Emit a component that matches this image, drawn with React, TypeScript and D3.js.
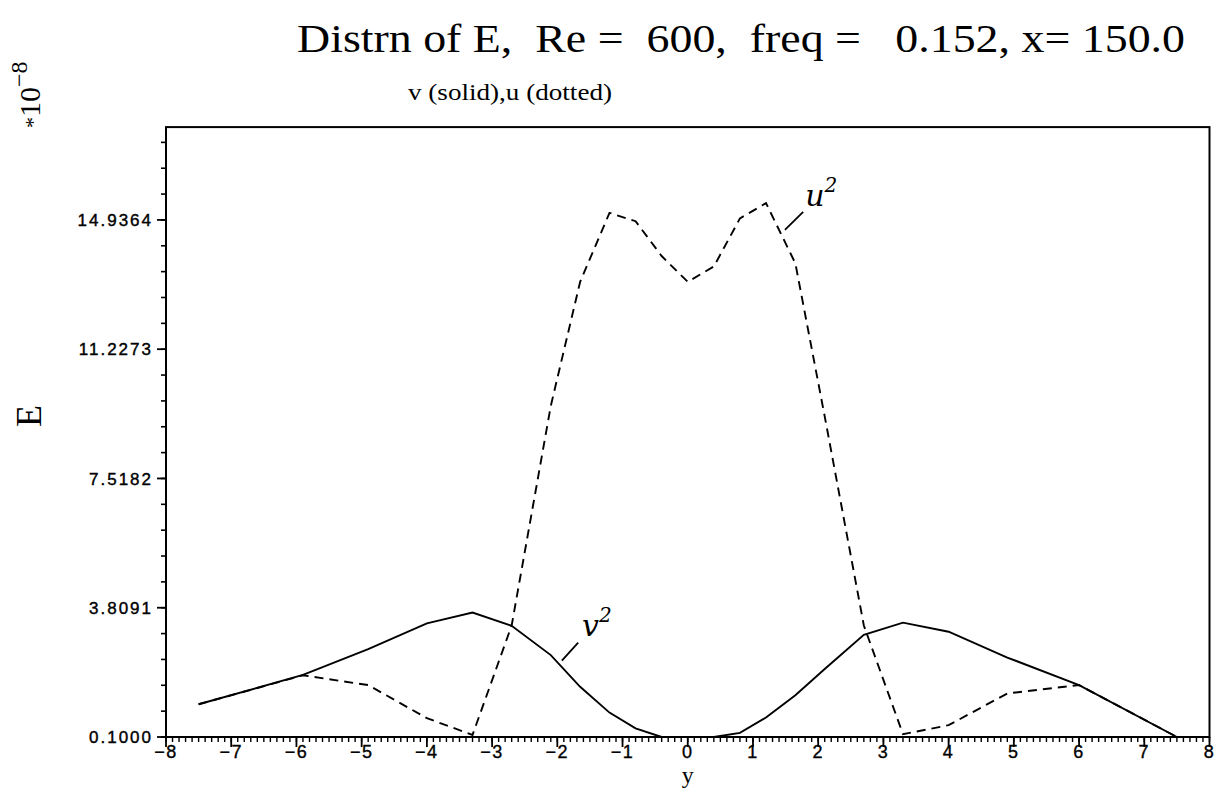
import * as d3 from 'd3';

// station coordinates (y) shared by both curves
const yStations = [-7.5, -5.9, -4.9, -4.0, -3.3, -2.7, -2.1, -1.65, -1.2, -0.8, -0.4, 0, 0.4, 0.8, 1.2, 1.65, 2.1, 2.7, 3.3, 4.0, 4.9, 6.0, 7.5];
// v^2 (solid), units of 1e-8
const vSquared = [1.04, 1.88, 2.62, 3.36, 3.67, 3.29, 2.45, 1.54, 0.8, 0.35, 0.1, 0.1, 0.1, 0.22, 0.66, 1.3, 2.05, 3.03, 3.38, 3.12, 2.38, 1.59, 0.1];
// u^2 (dotted)
const uSquared = [1.04, 1.87, 1.59, 0.64, 0.16, 3.3, 9.6, 13.16, 15.14, 14.9, 13.9, 13.16, 13.6, 14.98, 15.42, 13.69, 9.3, 3.3, 0.18, 0.44, 1.35, 1.59, 0.1];

const yTickValues = [0.1, 3.8091, 7.5182, 11.2273, 14.9364];
const xTickValues = d3.range(-8, 9, 1);

const titleText = 'Distrn of E,  Re =  600,  freq =   0.152, x= 150.0';
const subtitleText = 'v (solid),u (dotted)';

const W = 1221;
const H = 807;

const x = d3.scaleLinear().domain([-8, 8]).range([166, 1209.5]);
const y = d3.scaleLinear().domain([0.1, 17.6]).range([737, 127.1]);

const App = () => {
  const line = d3
    .line<number>()
    .x((_, i) => x(yStations[i]))
    .y((d) => y(d));

  const yStep = (yTickValues[1] - yTickValues[0]) / 5;
  const yMinor = d3.range(0, 200).map((i) => 0.1 + i * yStep).filter((v) => v <= 17.6);
  const xMinor = d3.range(-80, 81).map((i) => i / 10);

  const [x0, x1] = x.range();
  const [yb, yt] = y.range();

  return (
    <svg width={W} height={H} style={{ position: 'absolute', left: 0, top: 0, background: '#fff' }}>
      <rect width={W} height={H} fill="#fff" />
      {/* title */}
      <text
        x={297}
        y={52}
        fontFamily="'Liberation Serif', serif"
        fontSize={40}
        textLength={888}
        lengthAdjust="spacingAndGlyphs"
        style={{ whiteSpace: 'pre' }}
        fill="#000"
      >
        {titleText}
      </text>
      <text
        x={408}
        y={100}
        fontFamily="'Liberation Serif', serif"
        fontSize={23}
        textLength={204}
        lengthAdjust="spacingAndGlyphs"
        fill="#000"
      >
        {subtitleText}
      </text>

      {/* *10^-8 */}
      <g transform="translate(40,128) rotate(-90)">
        <text fontFamily="'Liberation Serif', serif" fontSize={30} fill="#000">
          <tspan fontSize={22}>*</tspan>
          <tspan>10</tspan>
          <tspan dy={-13} fontSize={24}>{'\u22128'}</tspan>
        </text>
      </g>
      {/* y label */}
      <text
        transform="translate(41,416) rotate(-90)"
        textAnchor="middle"
        fontFamily="'Liberation Serif', serif"
        fontSize={36}
        fill="#000"
      >
        E
      </text>

      {/* frame */}
      <rect x={x0} y={yt} width={x1 - x0} height={yb - yt} fill="none" stroke="#000" strokeWidth={2} />

      {/* y ticks */}
      {yMinor.map((v, i) => (
        <line key={'ym' + i} x1={x0} x2={x0 - 5} y1={y(v)} y2={y(v)} stroke="#000" strokeWidth={1.6} />
      ))}
      {yTickValues.map((v) => (
        <g key={'y' + v}>
          <line x1={x0} x2={x0 - 9} y1={y(v)} y2={y(v)} stroke="#000" strokeWidth={1.8} />
          <text
            x={153}
            y={y(v)}
            dy="0.36em"
            textAnchor="end"
            fontFamily="'Liberation Sans', Arial, sans-serif"
            fontSize={17}
            letterSpacing={2}
            stroke="#000"
            strokeWidth={0.4}
            fill="#000"
          >
            {d3.format('.4f')(v)}
          </text>
        </g>
      ))}

      {/* x ticks */}
      {xMinor.map((v, i) => (
        <line key={'xm' + i} x1={x(v)} x2={x(v)} y1={yb} y2={yb + 5} stroke="#000" strokeWidth={1.4} />
      ))}
      {xTickValues.map((v) => (
        <g key={'x' + v}>
          <line x1={x(v)} x2={x(v)} y1={yb} y2={yb + 10} stroke="#000" strokeWidth={1.8} />
          <text
            x={x(v)}
            y={758}
            textAnchor="middle"
            fontFamily="'Liberation Sans', Arial, sans-serif"
            fontSize={18}
            letterSpacing={1.5}
            stroke="#000"
            strokeWidth={0.35}
            fill="#000"
          >
            {d3.format('d')(v)}
          </text>
        </g>
      ))}
      <text x={x(0)} y={783} textAnchor="middle" fontFamily="'Liberation Serif', serif" fontSize={24} fill="#000">
        y
      </text>

      {/* curves */}
      <path d={line(uSquared) ?? ''} fill="none" stroke="#000" strokeWidth={1.9} strokeDasharray="9,6" />
      <path d={line(vSquared) ?? ''} fill="none" stroke="#000" strokeWidth={1.9} />

      {/* curve labels */}
      <line x1={x(1.49)} y1={y(14.65)} x2={x(1.77)} y2={y(15.17)} stroke="#000" strokeWidth={1.8} />
      <text x={x(1.8)} y={y(15.35)} fontFamily="'DejaVu Serif', serif" fontStyle="italic" fontSize={30} fill="#000">
        u<tspan dy={-14} fontSize={20}>2</tspan>
      </text>
      <line x1={x(-1.93)} y1={y(2.29)} x2={x(-1.68)} y2={y(2.81)} stroke="#000" strokeWidth={1.8} />
      <text x={x(-1.62)} y={y(3.0)} fontFamily="'DejaVu Serif', serif" fontStyle="italic" fontSize={30} fill="#000">
        v<tspan dy={-14} fontSize={20}>2</tspan>
      </text>
    </svg>
  );
};

export default App;
